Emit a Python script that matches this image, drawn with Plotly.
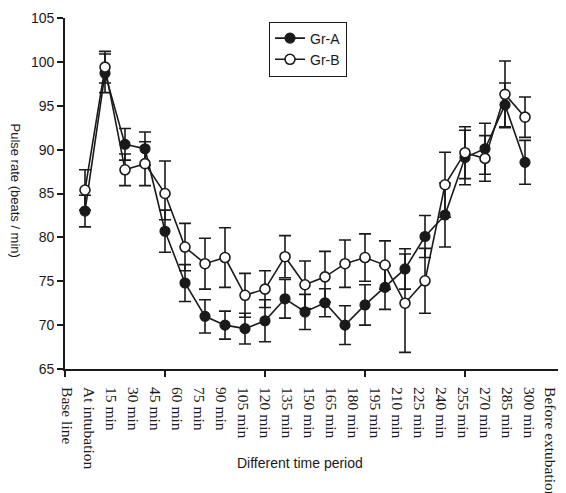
import plotly.graph_objects as go

time_labels = ["Base line", "At intubation"] + [f"{m} min" for m in range(15, 301, 15)] + ["Before extubation"]
positions = list(range(1, 24))

gr_a = [83.0, 98.7, 90.6, 90.1, 80.7, 74.8, 71.0, 70.0, 69.6, 70.5, 73.0, 71.5,
        72.55, 70.0, 72.3, 74.3, 76.4, 80.1, 82.55, 89.1, 90.1, 95.1, 88.55]
gr_a_err = [1.8, 2.2, 1.8, 1.9, 2.4, 2.1, 1.9, 1.6, 1.75, 2.4, 2.2, 2.0,
            1.6, 2.2, 2.3, 2.5, 2.3, 2.4, 3.65, 3.1, 2.9, 2.5, 2.5]
gr_b = [85.4, 99.4, 87.7, 88.4, 85.0, 78.9, 77.0, 77.7, 73.4, 74.1, 77.8, 74.6,
        75.5, 77.0, 77.7, 76.85, 72.5, 75.05, 86.0, 89.65, 89.0, 96.3, 93.7]
gr_b_err_up = [2.3, 1.8, 1.8, 2.5, 3.7, 2.7, 2.9, 3.4, 2.5, 2.1, 2.4, 2.7,
               2.9, 2.7, 2.7, 2.75, 5.6, 3.7, 3.7, 2.95, 2.6, 3.8, 2.3]
gr_b_err_dn = [2.3, 1.8, 1.8, 2.5, 3.0, 2.7, 2.9, 3.4, 2.5, 2.1, 2.4, 2.7,
               2.9, 2.7, 2.7, 2.75, 5.6, 3.7, 3.7, 2.95, 2.6, 3.8, 2.3]

ink = "#1a1a1a"
fig = go.Figure()
fig.add_trace(go.Scatter(
    x=positions, y=gr_a, name="Gr-A", mode="lines+markers",
    line=dict(color=ink, width=1.6),
    marker=dict(symbol="circle", size=10, color=ink, line=dict(color=ink, width=1.2)),
    error_y=dict(type="data", array=gr_a_err, color=ink, thickness=1.6, width=6),
))
fig.add_trace(go.Scatter(
    x=positions, y=gr_b, name="Gr-B", mode="lines+markers",
    line=dict(color=ink, width=1.6),
    marker=dict(symbol="circle", size=10, color="white", line=dict(color=ink, width=1.6)),
    error_y=dict(type="data", array=gr_b_err_up, arrayminus=gr_b_err_dn,
                 color=ink, thickness=1.6, width=6),
))
# empty helper trace so the category-label axis is drawn
fig.add_trace(go.Scatter(x=[None], y=[None], xaxis="x2", yaxis="y",
                         showlegend=False, hoverinfo="skip", mode="markers"))

fig.update_layout(
    width=558, height=485,
    margin=dict(l=57, r=1, t=10, b=124),
    paper_bgcolor="white", plot_bgcolor="white",
    font=dict(family="Liberation Sans, Arial", size=13, color=ink),
    showlegend=True,
    legend=dict(x=0.408, y=0.99, xanchor="left", yanchor="top",
                bordercolor=ink, borderwidth=1, bgcolor="white",
                font=dict(size=14, family="Liberation Sans, Arial"),
                tracegroupgap=0, itemwidth=30),
    xaxis=dict(range=[0, 25], tickmode="array", tickvals=[0, 5, 10, 15, 20, 25],
               showticklabels=False, ticks="outside", ticklen=6, tickwidth=1.6,
               tickcolor=ink, showline=True, linecolor=ink, linewidth=1.6,
               showgrid=False, zeroline=False, automargin=False),
    xaxis2=dict(range=[-0.114, 22.66], overlaying="x", anchor="y", side="bottom",
                tickmode="array", tickvals=list(range(len(time_labels))), ticktext=time_labels,
                tickangle=90, ticks="outside", ticklen=14, tickcolor="rgba(0,0,0,0)",
                tickfont=dict(family="Liberation Serif, Times New Roman", size=15.5, color=ink),
                showline=False, showgrid=False, zeroline=False, automargin=False),
    yaxis=dict(range=[65, 105], tickmode="array", tickvals=list(range(65, 106, 5)),
               ticks="outside", ticklen=6, tickwidth=1.6, tickcolor=ink,
               showline=True, linecolor=ink, linewidth=1.6, showgrid=False,
               zeroline=False, tickfont=dict(size=14), automargin=False),
    annotations=[
        dict(text="Pulse rate (beats / min)", xref="paper", yref="paper",
             x=-0.118, y=0.51, textangle=90, showarrow=False,
             font=dict(size=13, family="Liberation Sans, Arial", color=ink)),
        dict(text="Different time period", xref="paper", yref="paper",
             x=0.47, y=-0.297, showarrow=False,
             font=dict(size=14, family="Liberation Sans, Arial", color=ink)),
    ],
)

fig.write_html("out.html")
